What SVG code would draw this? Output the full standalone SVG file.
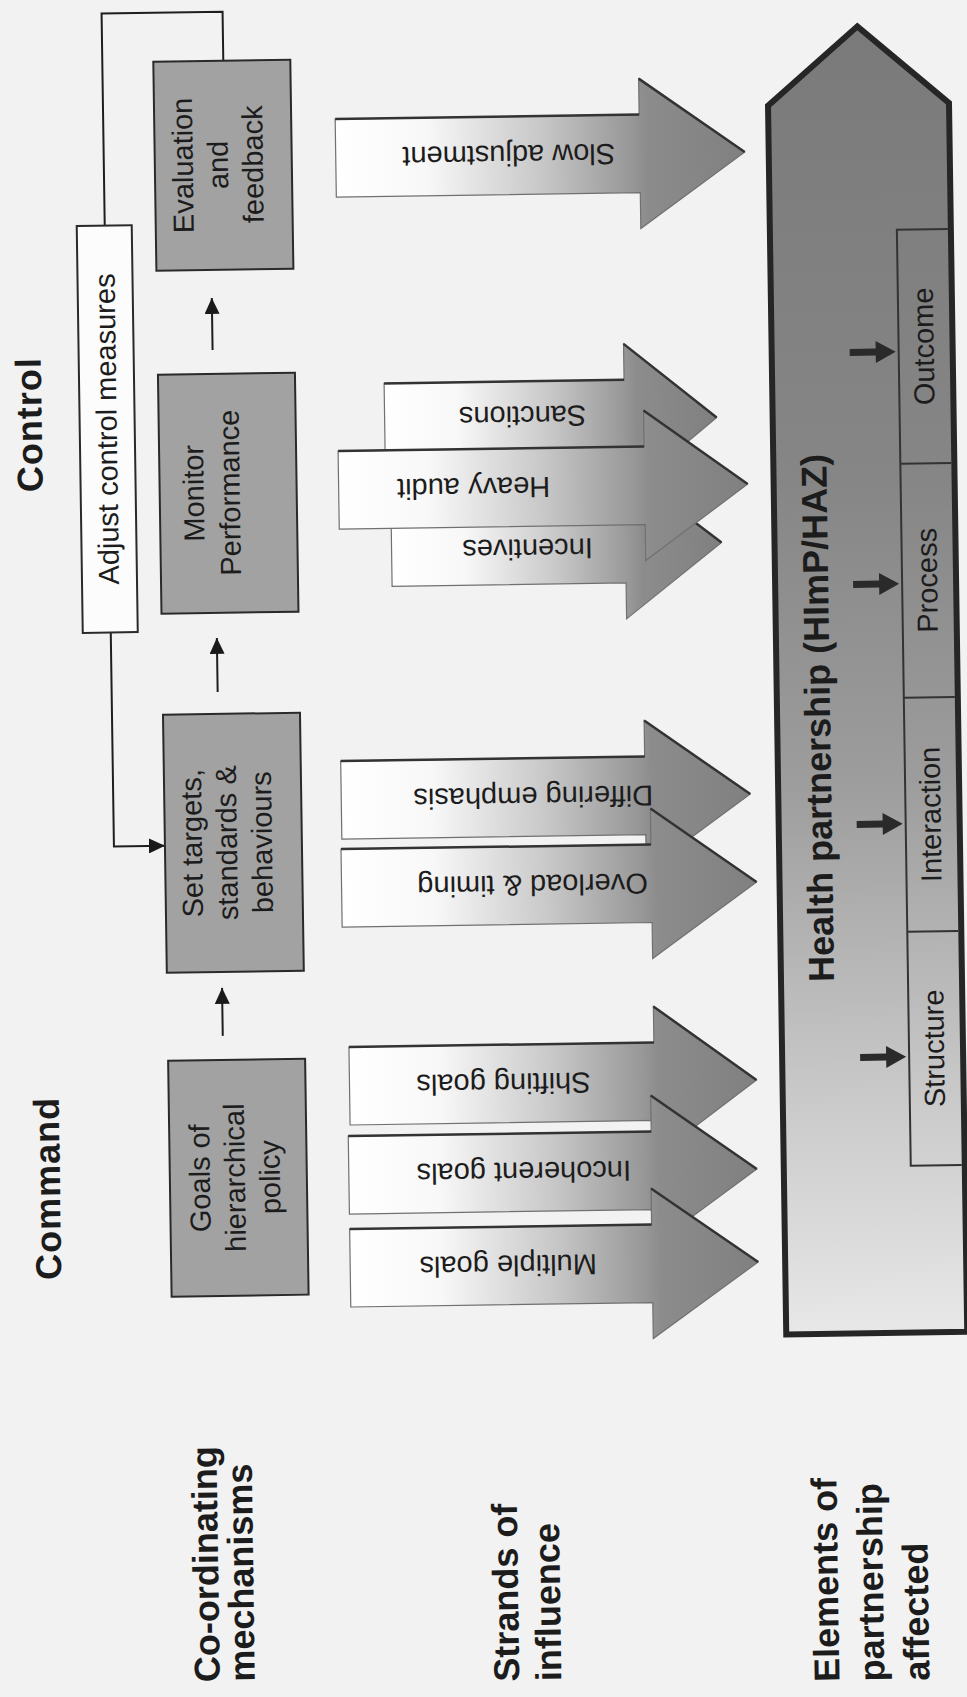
<svg xmlns="http://www.w3.org/2000/svg" width="967" height="1697" viewBox="0 0 967 1697">
<defs>
<style>
.box{fill:#a2a2a2;stroke:#2a2a2a;stroke-width:2}
.wbox{fill:#fcfcfc;stroke:#2a2a2a;stroke-width:2}
.lbl{font-family:"Liberation Sans",Arial,sans-serif;font-size:29px;fill:#1c1c1c}
.hdr{font-family:"Liberation Sans",Arial,sans-serif;font-size:36px;font-weight:bold;fill:#1c1c1c}
.conn{fill:none;stroke:#1e1e1e;stroke-width:2}
.strand{fill:url(#ag);stroke:#707070;stroke-width:1.2}
.edge{fill:none;stroke:#333;stroke-width:2.5}
.sarrow{fill:#2a2a2a}
</style>
<linearGradient id="ag" x1="0" y1="0" x2="1" y2="0">
<stop offset="0" stop-color="#ffffff"/>
<stop offset="0.22" stop-color="#f8f8f8"/>
<stop offset="0.5" stop-color="#c8c8c8"/>
<stop offset="0.72" stop-color="#989898"/>
<stop offset="0.76" stop-color="#8c8c8c"/>
<stop offset="1" stop-color="#808080"/>
</linearGradient>
<linearGradient id="bg" gradientUnits="userSpaceOnUse" x1="0" y1="30" x2="0" y2="1340">
<stop offset="0" stop-color="#7a7a7a"/>
<stop offset="0.35" stop-color="#868686"/>
<stop offset="0.58" stop-color="#9d9d9d"/>
<stop offset="0.8" stop-color="#c6c6c6"/>
<stop offset="1" stop-color="#e8e8e8"/>
</linearGradient>
<marker id="ah" markerUnits="userSpaceOnUse" markerWidth="16" markerHeight="15" refX="16" refY="7.5" orient="auto">
<path d="M0,0 L16,7.5 L0,15 Z" fill="#1a1a1a"/>
</marker>
<path id="sa" d="M-46,-3.5 H-20 V-11 L0,0 L-20,11 V3.5 H-46 Z"/>
</defs>
<rect x="0" y="0" width="967" height="1697" fill="#f2f2f2"/>
<g transform="rotate(-0.85 483 848)">

<g id="headers">
<text class="hdr" letter-spacing="1" text-anchor="middle" transform="translate(48,418) rotate(-90)">Control</text>
<text class="hdr" letter-spacing="1" text-anchor="middle" transform="translate(55,1182) rotate(-90)">Command</text>
<text class="hdr" transform="translate(207.5,1678) rotate(-90)"><tspan x="0" dy="0">Co-ordinating</tspan><tspan x="0" dy="35">mechanisms</tspan></text>
<text class="hdr" transform="translate(507,1682) rotate(-90)"><tspan x="0" dy="0">Strands of</tspan><tspan x="0" dy="42">influence</tspan></text>
<text class="hdr" transform="translate(827,1687) rotate(-90)"><tspan x="0" dy="0">Elements of</tspan><tspan x="0" dy="45">partnership</tspan><tspan x="0" dy="45">affected</tspan></text>
</g>

<g id="connectors">
<path class="conn" d="M114,220 V8 H235 V57"/>
<path class="conn" d="M114,627 V841 H165" marker-end="url(#ah)"/>
<path class="conn" d="M220,346 V294" marker-end="url(#ah)"/>
<path class="conn" d="M220,688 V634" marker-end="url(#ah)"/>
<path class="conn" d="M220,1032 V984" marker-end="url(#ah)"/>
</g>

<g id="adjust-control-measures">
<rect class="wbox" x="86" y="220" width="55" height="407"/>
<text class="lbl" text-anchor="middle" transform="translate(123,423.5) rotate(-90)">Adjust control measures</text>
</g>

<g id="evaluation-and-feedback">
<rect class="box" x="165" y="57" width="137" height="209"/>
<text class="lbl" text-anchor="middle" transform="translate(203,161) rotate(-90)"><tspan x="0" dy="0">Evaluation</tspan><tspan x="0" dy="35">and</tspan><tspan x="0" dy="35">feedback</tspan></text>
</g>

<g id="monitor-performance">
<rect class="box" x="165" y="370" width="137" height="239"/>
<text class="lbl" text-anchor="middle" transform="translate(209,489) rotate(-90)"><tspan x="0" dy="0">Monitor</tspan><tspan x="0" dy="36">Performance</tspan></text>
</g>

<g id="set-targets">
<rect class="box" x="165" y="710" width="137" height="258"/>
<text class="lbl" text-anchor="middle" transform="translate(202,839) rotate(-90)"><tspan x="0" dy="0">Set targets,</tspan><tspan x="0" dy="35">standards &amp;</tspan><tspan x="0" dy="35">behaviours</tspan></text>
</g>

<g id="goals-of-hierarchical-policy">
<rect class="box" x="165" y="1056" width="137" height="236"/>
<text class="lbl" text-anchor="middle" transform="translate(205,1174) rotate(-90)"><tspan x="0" dy="0">Goals of</tspan><tspan x="0" dy="35">hierarchical</tspan><tspan x="0" dy="35">policy</tspan></text>
</g>

<g id="strand-slow-adjustment">
<polygon class="strand" points="346,117 650,117 650,81 755,156 650,231 650,195 346,195"/>
<path class="edge" d="M346,117 H650 M650,81 L755,156"/>
<text class="lbl" text-anchor="middle" y="10" transform="translate(519,156) rotate(180)">Slow adjustment</text>
</g>

<g id="strand-sanctions">
<polygon class="strand" points="391,382 631,382 631,346 723,421 631,496 631,460 391,460"/>
<path class="edge" d="M391,382 H631 M631,346 L723,421"/>
<text class="lbl" text-anchor="middle" y="10" transform="translate(529,417) rotate(180)">Sanctions</text>
</g>

<g id="strand-incentives">
<polygon class="strand" points="396,507 630,507 630,471 726,546 630,621 630,585 396,585"/>
<path class="edge" d="M396,507 H630 M630,471 L726,546"/>
<text class="lbl" text-anchor="middle" y="10" transform="translate(532,550) rotate(180)">Incentives</text>
</g>

<g id="strand-heavy-audit">
<polygon class="strand" points="344,449 650,449 650,413 753,488 650,563 650,527 344,527"/>
<path class="edge" d="M344,449 H650 M650,413 L753,488"/>
<text class="lbl" text-anchor="middle" y="10" transform="translate(479,488) rotate(180)">Heavy audit</text>
</g>

<g id="strand-differing-emphasis">
<polygon class="strand" points="342,759 646,759 646,723 751,798 646,873 646,837 342,837"/>
<path class="edge" d="M342,759 H646 M646,723 L751,798"/>
<text class="lbl" text-anchor="middle" y="10" transform="translate(534,798) rotate(180)">Differing emphasis</text>
</g>

<g id="strand-overload-timing">
<polygon class="strand" points="341,847 651,847 651,811 756,886 651,961 651,925 341,925"/>
<path class="edge" d="M341,847 H651 M651,811 L756,886"/>
<text class="lbl" text-anchor="middle" y="10" transform="translate(532,886) rotate(180)">Overload &amp; timing</text>
</g>

<g id="strand-shifting-goals">
<polygon class="strand" points="346,1045 651,1045 651,1009 753,1084 651,1159 651,1123 346,1123"/>
<path class="edge" d="M346,1045 H651 M651,1009 L753,1084"/>
<text class="lbl" text-anchor="middle" y="10" transform="translate(500,1084) rotate(180)">Shifting goals</text>
</g>

<g id="strand-incoherent-goals">
<polygon class="strand" points="344,1134 647,1134 647,1098 752,1173 647,1248 647,1212 344,1212"/>
<path class="edge" d="M344,1134 H647 M647,1098 L752,1173"/>
<text class="lbl" text-anchor="middle" y="10" transform="translate(519,1173) rotate(180)">Incoherent goals</text>
</g>

<g id="strand-multiple-goals">
<polygon class="strand" points="344,1227 646,1227 646,1191 752,1266 646,1341 646,1305 344,1305"/>
<path class="edge" d="M344,1227 H646 M646,1191 L752,1266"/>
<text class="lbl" text-anchor="middle" y="10" transform="translate(502,1266) rotate(180)">Multiple goals</text>
</g>

<g id="health-partnership">
<polygon points="779,110 869.5,32 960,110 960,1339 779,1339" fill="url(#bg)" stroke="#262626" stroke-width="6" stroke-linejoin="miter"/>
<text class="hdr" font-size="38" text-anchor="middle" transform="translate(832,723) rotate(-90)">Health partnership (HImP/HAZ)</text>
<path d="M957,236 H906 V1172 H957 M906,470 H957 M906,704 H957 M906,938 H957" fill="none" stroke="#333" stroke-width="2"/>
<text class="lbl" text-anchor="middle" transform="translate(941,353) rotate(-90)">Outcome</text>
<text class="lbl" text-anchor="middle" transform="translate(941,587) rotate(-90)">Process</text>
<text class="lbl" text-anchor="middle" transform="translate(941,821) rotate(-90)">Interaction</text>
<text class="lbl" text-anchor="middle" transform="translate(941,1055) rotate(-90)">Structure</text>
<use href="#sa" class="sarrow" x="903" y="358"/>
<use href="#sa" class="sarrow" x="903" y="590"/>
<use href="#sa" class="sarrow" x="903" y="830"/>
<use href="#sa" class="sarrow" x="903" y="1063"/>
</g>

</g>
</svg>
